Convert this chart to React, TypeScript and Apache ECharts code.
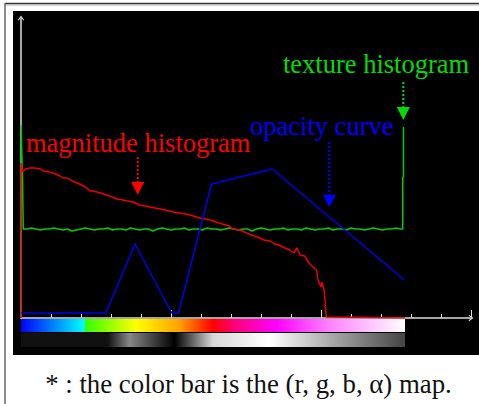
import React, { useEffect, useRef } from "react";
import * as echarts from "echarts";

// x in histogram bins (0..255), y in count units
const magnitudeHistogram: [number, number][] = [
  [0, 0], [0, 155], [1, 146], [3, 149], [6, 150], [9, 150], [13, 149], [15, 147], [19, 146],
  [23, 144], [26, 142], [28, 140], [31, 140], [34, 137], [39, 134], [43, 131], [46, 127],
  [48, 127], [53, 125], [59, 122], [64, 119], [68, 118], [71, 117], [75, 116], [79, 113],
  [86, 111], [93, 109], [99, 107], [104, 105], [106, 105], [113, 103], [119, 100], [126, 98],
  [132, 95], [139, 92], [141, 89], [146, 88], [152, 84], [159, 80], [162, 78], [166, 77],
  [169, 74], [172, 73], [176, 70], [179, 68], [182, 65], [184, 70], [186, 63], [189, 62],
  [192, 55], [194, 52], [197, 48], [198, 38], [200, 31], [200.5, 36], [202, 28], [202.5, 21],
  [203.5, 1], [256, 0],
];

const textureHistogram: [number, number][] = [
  [0, 0], [0, 193], [1, 140], [1.5, 89], [4, 89], [7, 90], [10, 89], [13, 88], [16, 89],
  [19, 89], [22, 90], [25, 89], [28, 88], [31, 89], [34, 87], [37, 88], [40, 89], [43, 90],
  [46, 89], [49, 88], [52, 89], [55, 89], [58, 90], [61, 88], [64, 89], [67, 89], [70, 88],
  [73, 90], [76, 89], [79, 88], [82, 89], [85, 89], [88, 87], [91, 89], [94, 90], [97, 89],
  [100, 88], [103, 89], [106, 89], [109, 90], [112, 88], [115, 89], [118, 89], [121, 88],
  [124, 90], [127, 89], [130, 89], [133, 88], [136, 89], [139, 90], [142, 89], [145, 88],
  [148, 89], [151, 89], [154, 87], [157, 89], [160, 90], [163, 89], [166, 88], [169, 89],
  [172, 89], [175, 90], [178, 88], [181, 89], [184, 89], [187, 88], [190, 90], [193, 89],
  [196, 88], [199, 89], [202, 89], [205, 90], [208, 88], [211, 89], [214, 89], [217, 88],
  [220, 90], [223, 89], [226, 89], [229, 88], [232, 89], [235, 90], [238, 89], [241, 88],
  [244, 89], [247, 89], [250, 90], [253, 89], [254.5, 89], [254.5, 141], [255, 141], [255, 191],
];

const opacityCurve: [number, number][] = [
  [0, 5], [56.5, 5], [76, 74], [100.5, 5], [105, 5], [127, 134], [167.5, 149], [255.5, 38],
];

const colorBarRange: [number, number] = [0, 256];

const colorMapStops: [number, string][] = [
  [0, "#0000ff"], [0.165, "#00ffff"], [0.168, "#33ff00"], [0.3, "#ffff00"],
  [0.413, "#ffa000"], [0.5, "#ff0000"], [0.56, "#ff0080"], [0.665, "#ff00ff"],
  [0.8, "#ff80ff"], [1, "#ffffff"],
];

const alphaMapStops: [number, string][] = [
  [0, "#111111"], [0.226, "#111111"], [0.283, "#888888"], [0.4, "#000000"],
  [0.5, "#d8d8d8"], [0.647, "#ffffff"], [1, "#444444"],
];

const labels = {
  magnitude: "magnitude histogram",
  opacity: "opacity curve",
  texture: "texture histogram",
  caption: "* : the color bar is the (r, g, b, \u03b1) map.",
};

const SERIF = "Liberation Serif";
const FS = 26.5;

const chevron = "path://M5,0 L10,7 L8.6,8 L5,2.8 L1.4,8 L0,7 Z";

export default function App() {
  const ref = useRef<HTMLDivElement>(null);
  useEffect(() => {
    document.body.style.margin = "0";
    const chart = echarts.init(ref.current!, null, { renderer: "svg" });
    const text = (t: string, x: number, y: number, fill: string, align = "left", size = FS) => ({
      type: "text",
      x,
      y,
      z: 10,
      style: {
        text: t,
        fill,
        fontSize: size,
        fontFamily: SERIF,
        textAlign: align,
        align,
        textVerticalAlign: "middle",
        verticalAlign: "middle",
      },
    });
    const arrow = (x: number, y0: number, y1: number, y2: number, color: string) => [
      {
        type: "line",
        z: 10,
        shape: { x1: x, y1: y0, x2: x, y2: y1 },
        style: { stroke: color, lineWidth: 2, lineDash: [2, 2] },
      },
      {
        type: "polygon",
        z: 10,
        shape: { points: [[x - 6.5, y1], [x + 6.5, y1], [x, y2]] },
        style: { fill: color },
      },
    ];
    chart.setOption({
      animation: false,
      backgroundColor: "#ffffff",
      grid: { left: 21, right: 8, top: 18, bottom: 86, containLabel: false },
      xAxis: {
        type: "value",
        min: 0,
        max: 300,
        interval: 100,
        axisLine: {
          show: true,
          symbol: ["none", chevron],
          symbolSize: [8, 5],
          lineStyle: { color: "#dddddd", width: 1.5 },
        },
        axisTick: { show: true, inside: true, length: 8, lineStyle: { color: "#dddddd", width: 1 } },
        minorTick: { show: true, splitNumber: 5, length: 4, lineStyle: { color: "#dddddd", width: 1 } },
        axisLabel: { show: false },
        splitLine: { show: false },
      },
      yAxis: {
        type: "value",
        min: 0,
        max: 300,
        axisLine: {
          show: true,
          symbol: ["none", chevron],
          symbolSize: [8, 5],
          lineStyle: { color: "#dddddd", width: 1.5 },
        },
        axisTick: { show: false },
        axisLabel: { show: false },
        splitLine: { show: false },
      },
      series: [
        {
          type: "custom",
          silent: true,
          clip: false,
          z: 1,
          encode: { x: [0, 1] },
          data: [colorBarRange],
          renderItem: (params: any, api: any) => {
            const s = api.coord([api.value(0), 0]);
            const e = api.coord([api.value(1), 0]);
            const w = e[0] - s[0];
            return {
              type: "group",
              children: [
                {
                  type: "rect",
                  shape: { x: s[0], y: s[1] + 1, width: w, height: 13 },
                  style: {
                    fill: new echarts.graphic.LinearGradient(
                      0, 0, 1, 0,
                      colorMapStops.map(([offset, color]) => ({ offset, color }))
                    ),
                  },
                },
                {
                  type: "rect",
                  shape: { x: s[0], y: s[1] + 15, width: w, height: 14 },
                  style: {
                    fill: new echarts.graphic.LinearGradient(
                      0, 0, 1, 0,
                      alphaMapStops.map(([offset, color]) => ({ offset, color }))
                    ),
                  },
                },
              ],
            };
          },
        },
        {
          type: "line",
          name: labels.texture,
          data: textureHistogram,
          showSymbol: false,
          z: 3,
          lineStyle: { color: "#00cc00", width: 1.5 },
        },
        {
          type: "line",
          name: labels.magnitude,
          data: magnitudeHistogram,
          showSymbol: false,
          z: 4,
          lineStyle: { color: "#ee0000", width: 1.5 },
        },
        {
          type: "line",
          name: labels.opacity,
          data: opacityCurve,
          showSymbol: false,
          z: 5,
          lineStyle: { color: "#0000ee", width: 1.5 },
        },
      ],
      graphic: {
        elements: [
          { type: "rect", z: -1, shape: { x: 13, y: 11, width: 466, height: 344 }, style: { fill: "#000000" } },
          { type: "line", z: -1, shape: { x1: 5, y1: 3.5, x2: 479, y2: 3.5 }, style: { stroke: "#333333", lineWidth: 1.3 } },
          { type: "line", z: -1, shape: { x1: 5, y1: 5, x2: 479, y2: 5 }, style: { stroke: "#aaaaaa", lineWidth: 1 } },
          { type: "line", z: -1, shape: { x1: 5, y1: 3, x2: 5, y2: 404 }, style: { stroke: "#666666", lineWidth: 1.5 } },
          text(labels.magnitude, 26, 143, "#ff0000"),
          text(labels.opacity, 250, 126, "#0000ff"),
          text(labels.texture, 283, 64, "#00dd00"),
          text(labels.caption, 248.5, 384, "#111111", "center", 26.8),
          ...arrow(137.7, 157, 182, 195, "#ff0000"),
          ...arrow(329.3, 142, 195, 207, "#0000ff"),
          ...arrow(403.3, 82, 107, 120, "#00dd00"),
        ],
      },
    });
    return () => chart.dispose();
  }, []);
  return <div ref={ref} style={{ width: 479, height: 404 }} />;
}
